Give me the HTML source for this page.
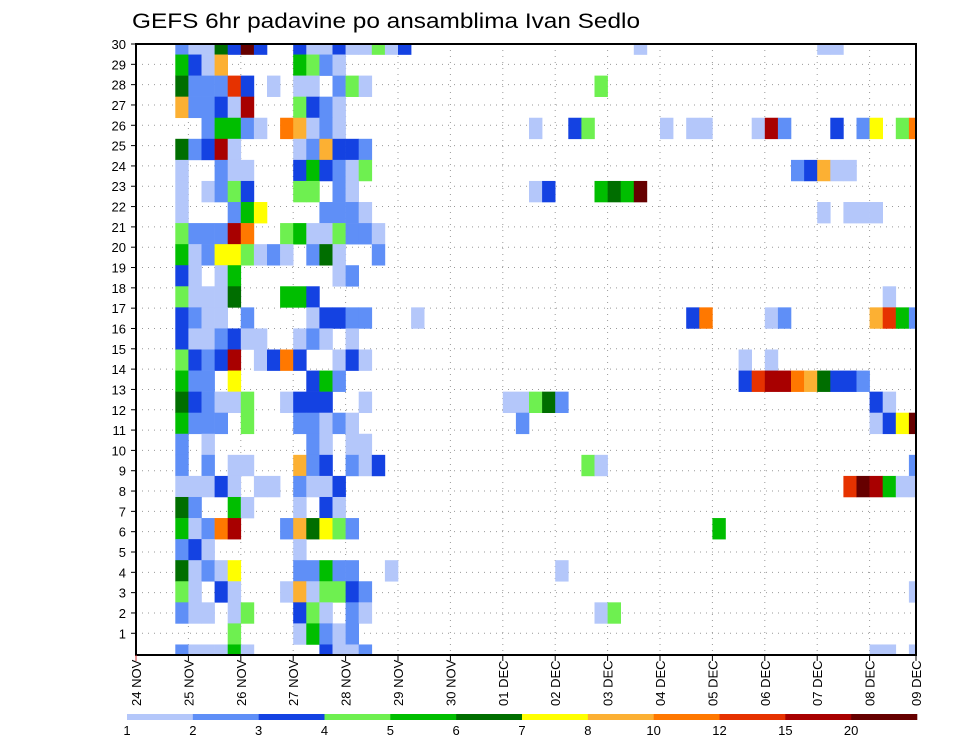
<!DOCTYPE html>
<html>
<head>
<meta charset="utf-8">
<style>
html,body{margin:0;padding:0;background:#fff;}
svg{display:block;}
text{font-family:"Liberation Sans",sans-serif;fill:#000;}
</style>
</head>
<body>
<svg id="chart" width="960" height="742" viewBox="0 0 960 742" xmlns="http://www.w3.org/2000/svg">
  <text x="132" y="28" font-size="21" textLength="508" lengthAdjust="spacingAndGlyphs">GEFS 6hr padavine po ansamblima Ivan Sedlo</text>
  <g id="grid"></g>
  <g id="cells"></g>
  <g id="axes"></g>
  <g id="legend"></g>
</svg>
<script>
// ---- data ----
const dayLabels = ["24 NOV","25 NOV","26 NOV","27 NOV","28 NOV","29 NOV","30 NOV","01 DEC","02 DEC","03 DEC","04 DEC","05 DEC","06 DEC","07 DEC","08 DEC","09 DEC"];
const yTickLabels = [1,2,3,4,5,6,7,8,9,10,11,12,13,14,15,16,17,18,19,20,21,22,23,24,25,26,27,28,29,30];
const levelLabels = [1,2,3,4,5,6,7,8,10,12,15,20];
const binCodes = "abcdefghijkl";
const binColors = ["#b4c7fa","#5f8ff7","#1442e2","#6ef050","#00be00","#006e00","#ffff00","#fcb033","#ff7800","#e63200","#a80000","#660000"];
// each member row: one bin code per 6-hour step (first step ends 25 NOV 00Z); '.' = below 1 mm
// written in 10-step groups: steps 0-9 | 10-19 | 20-29 | 30-39 | 40-49 | 50-56
const E = "..........";
const memberRows = [
"baafclc..c"+"aacaadac.."+E+".....a...."+".........a"+"a......",
"ecah.....e"+"dba......."+E+E+E+".......",
"fbbbjc.a.a"+"a.bda....."+E+"..d......."+E+".......",
"hbbcak...d"+"cba......."+E+E+E+".......",
"..beeba.ih"+"aba......."+".......a.."+"cd.....a.a"+"a...akb..."+"c.bg.di",
"fbcka....a"+"bhccb....."+E+E+E+".......",
"a..baa...c"+"ecbad....."+E+E+".......bch"+"aa.....",
"a.abdc...d"+"d.ba......"+".......ac."+"..efel...."+E+".......",
"a...beg..."+".bbba....."+E+E+".........a"+".aaa...",
"dbbbki..de"+"aadbba...."+E+E+E+".......",
"eabggdaba."+"bfa..b...."+E+E+E+".......",
"ca.ae....."+"..ab......"+E+E+E+".......",
"daaaf...ee"+"c........."+E+E+E+"....a..",
"cbaa.b...."+"accbb...a."+E+".........c"+"i....ab..."+"...hjeb",
"caabcaa..a"+"ba.a......"+E+E+E+".......",
"dcbck.acic"+"..aca....."+E+E+"...a.a...."+".......",
"ebb.g....."+"ceb......."+E+E+"...cjkkihf"+"ccb....",
"fcbaad..ac"+"cc..a....."+".....aadfb"+E+E+"...ca..",
"ebbb.d...b"+"baba......"+"......b..."+E+E+"...acgl",
"b.a......."+"ba.aa....."+E+E+E+".......",
"b.b.aa...h"+"bc.bac...."+E+".da......."+E+"......b",
"aaaca.aa.b"+"aac......."+E+E+E+".jlkeaa",
"fb..ea...a"+".ca......."+E+E+E+".......",
"eabik...bh"+"fgdb......"+E+E+".e........"+".......",
"bca......a"+E+E+E+E+".......",
"fabag....b"+"bebb..a..."+".........a"+E+E+".......",
"da.ca...ah"+"addcb....."+E+E+E+"......a",
"baa.ad...c"+"da.ba....."+E+"..ad......"+E+".......",
"....d....a"+"ebab......"+E+E+E+".......",
"baaaea...."+".caab....."+E+E+E+"...aa.a"
];
</script>
<script>
// ---- scales ----
const plot = {left:136, right:916, top:44, bottom:655};
const dayPx = 52.4, stepPx = dayPx/4;
function xScale(step){ return plot.left + step*stepPx; }      // step = 6h index from 24 NOV 00Z
function yTick(v){ return plot.top + (30 - v)*20.32; }        // member axis labels
const bandH = (plot.bottom - plot.top)/(memberRows.length - 1);
function yBand(i){ return plot.top + i*bandH; }
const NS = "http://www.w3.org/2000/svg";
function mk(tag, attrs, parent){
  const e = document.createElementNS(NS, tag);
  for (const k in attrs) e.setAttribute(k, attrs[k]);
  parent.appendChild(e); return e;
}
const grid = document.getElementById("grid");
const cells = document.getElementById("cells");
const axes = document.getElementById("axes");
const legend = document.getElementById("legend");

const defs = mk("defs", {}, document.getElementById("chart"));
const cp = mk("clipPath", {id:"plotclip"}, defs);
mk("rect", {x:plot.left, y:plot.top, width:plot.right-plot.left, height:plot.bottom-plot.top}, cp);
cells.setAttribute("clip-path","url(#plotclip)");

yTickLabels.forEach(v=>{
  const l = mk("line", {x1:plot.left, x2:plot.right, y1:yTick(v), y2:yTick(v), stroke:"#999", "stroke-width":1, "stroke-dasharray":"1,5"}, grid);
  
  
});
dayLabels.forEach((d,i)=>{
  const x = Math.min(xScale(i*4), plot.right);
  const l = mk("line", {x1:x, x2:x, y1:plot.top, y2:plot.bottom, stroke:"#999", "stroke-width":1, "stroke-dasharray":"1,5"}, grid);
  
  
});

memberRows.forEach((row, i)=>{
  for (let c=0; c<row.length; c++){
    const b = binCodes.indexOf(row[c]);
    if (b < 0) continue;
    const t = c + 4;
    const x0 = xScale(t-1), x1 = xScale(t);
    const r = mk("rect", {x:x0, y:yBand(i)-bandH/2, width:x1-x0+0.3, height:bandH+0.3, fill:binColors[b]}, cells);
    
    
  }
});

const frame = mk("rect", {x:plot.left, y:plot.top, width:plot.right-plot.left, height:plot.bottom-plot.top, fill:"none", stroke:"#000", "stroke-width":2}, axes);



yTickLabels.forEach(v=>{
  const y = yTick(v);
  const tk = mk("line", {x1:plot.left-5, x2:plot.left, y1:y, y2:y, stroke:"#000", "stroke-width":1}, axes);
  
  
  const t = mk("text", {x:plot.left-10, y:y+5, "font-size":13, "text-anchor":"end"}, axes);
  t.textContent = v;
  
  
});

dayLabels.forEach((d,i)=>{
  const x = Math.min(xScale(i*4), plot.right);
  const tk = mk("line", {x1:x, x2:x, y1:plot.bottom, y2:plot.bottom+6, stroke: i===0 ? "#c33" : "#000", "stroke-width":1}, axes);
  
  
  const t = mk("text", {x:0, y:0, "font-size":13, transform:`translate(${x+5},706) rotate(-90)`}, axes);
  t.textContent = d;
  
  
});

const lgLeft = 127, lgRight = 917, segW = (lgRight-lgLeft)/binColors.length;
binColors.forEach((col,i)=>{
  const r = mk("rect", {x:lgLeft+i*segW, y:714, width:segW+0.3, height:6, fill:col}, legend);
  
  
});
levelLabels.forEach((lv,i)=>{
  const t = mk("text", {x:lgLeft+i*segW, y:735, "font-size":13, "text-anchor":"middle"}, legend);
  t.textContent = lv;
  
  
});
</script>
</body>
</html>
